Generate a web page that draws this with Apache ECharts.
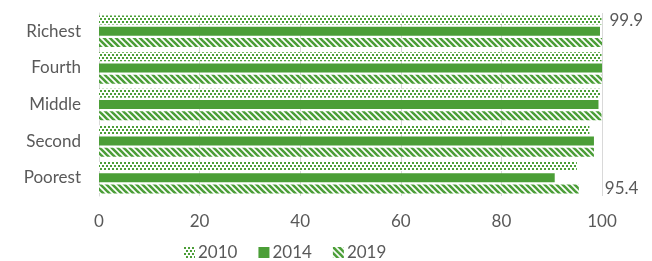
<!DOCTYPE html>
<html>
<head>
<meta charset="utf-8">
<script src="https://cdn.jsdelivr.net/npm/echarts@6/dist/echarts.min.js"></script>
<style>
  html, body { margin: 0; padding: 0; background: #fff; }
  #chart { width: 652px; height: 261px; }
</style>
</head>
<body>
<div id="chart"></div>
<script>
// data
var categories = ['Poorest', 'Second', 'Middle', 'Fourth', 'Richest'];
var years = ['2010', '2014', '2019'];
var v2010 = [95.0, 97.5, 99.6, 99.9, 99.9];
var v2014 = [90.6, 98.4, 99.3, 100, 99.6];
var v2019 = [95.4, 98.4, 99.9, 100, 100];
var xTicks = [0, 20, 40, 60, 80, 100];

var green = '#4b9e37';
var textColor = '#595959';
var font = 'Lato';

// dotted tile (2010)
function dotPattern() {
    var c = document.createElement('canvas');
    c.width = 4; c.height = 6;
    var ctx = c.getContext('2d');
    ctx.fillStyle = '#fff';
    ctx.fillRect(0, 0, 4, 6);
    ctx.fillStyle = green;
    ctx.fillRect(0, 0, 2, 2);
    ctx.fillRect(2, 3, 2, 2);
    return c;
}

// downward diagonal tile (2019)
function diagPattern() {
    var s = 6;
    var c = document.createElement('canvas');
    c.width = s; c.height = s;
    var ctx = c.getContext('2d');
    ctx.fillStyle = '#fff';
    ctx.fillRect(0, 0, s, s);
    ctx.strokeStyle = green;
    ctx.lineWidth = 2.6;
    for (var k = -1; k <= 1; k++) {
        ctx.beginPath();
        ctx.moveTo(k * s - 1, -1);
        ctx.lineTo(k * s + s + 1, s + 1);
        ctx.stroke();
    }
    return c;
}

var fills = [
    { image: dotPattern(), repeat: 'repeat' },
    green,
    { image: diagPattern(), repeat: 'repeat' }
];
var values = [v2010, v2014, v2019];

var chart = echarts.init(document.getElementById('chart'));

var series = [];
for (var i = 0; i < years.length; i++) {
    series.push({
        name: years[i],
        type: 'bar',
        barWidth: 9,
        barGap: '25%',
        itemStyle: { color: fills[i] },
        data: values[i].slice()
    });
}
// the two value labels on the right
series[0].data[4] = {
    value: v2010[4],
    label: { show: true, position: 'right', distance: 8, color: textColor, fontSize: 17, fontFamily: font }
};
series[2].data[0] = {
    value: v2019[0],
    label: { show: true, position: 'right', distance: 26, color: textColor, fontSize: 17, fontFamily: font }
};

var option = {
    animation: false,
    grid: { left: 99, right: 50, top: 13, bottom: 65 },
    legend: {
        top: 244,
        left: 184,
        padding: 0,
        itemWidth: 11,
        itemHeight: 11,
        itemGap: 21,
        icon: 'rect',
        textStyle: { color: textColor, fontSize: 17, fontFamily: font, padding: [0, 0, 0, -2] },
        data: years
    },
    xAxis: {
        type: 'value',
        min: xTicks[0],
        max: xTicks[xTicks.length - 1],
        interval: 20,
        axisLine: { show: false },
        axisTick: { show: false },
        splitLine: { lineStyle: { color: '#d9d9d9', width: 1 } },
        axisLabel: { color: textColor, fontSize: 17, fontFamily: font, margin: 17 }
    },
    yAxis: {
        type: 'category',
        data: categories,
        axisLine: { lineStyle: { color: '#d9d9d9', width: 1 } },
        axisTick: { show: false },
        axisLabel: { color: textColor, fontSize: 17, fontFamily: font, margin: 18 }
    },
    series: series
};

chart.setOption(option);
</script>
</body>
</html>
